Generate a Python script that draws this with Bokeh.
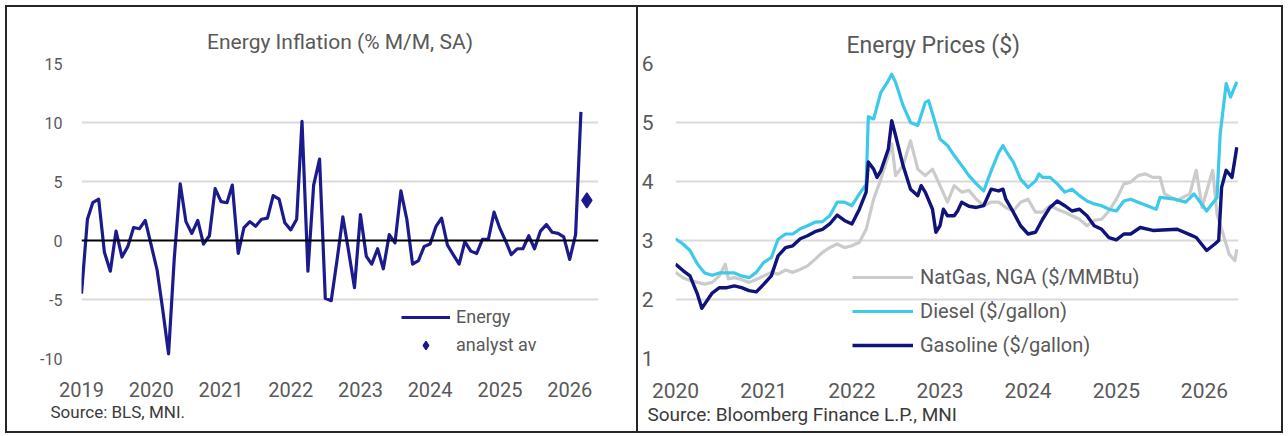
import pandas as pd
from bokeh.plotting import figure
from bokeh.models import (Range1d, FixedTicker, DatetimeTickFormatter, Span, Title,
                          Legend, LegendItem, ColumnDataSource)
from bokeh.layouts import row
from bokeh.embed import file_html
from bokeh.resources import INLINE

FONT = "Roboto"

# ---------------- Left chart data: Energy CPI % M/M SA (monthly from Jan 2019) -------------
energy_start = "2019-01-01"
energy_vals = [
    -4.5, 1.8, 3.2, 3.5, -1.0, -2.6, 0.8, -1.4, -0.5, 1.1, 1.0, 1.7,      # 2019
    -0.4, -2.5, -5.8, -9.6, -1.5, 4.8, 1.6, 0.6, 1.7, -0.3, 0.4, 4.4,     # 2020
    3.3, 3.2, 4.7, -1.1, 1.1, 1.6, 1.2, 1.8, 1.9, 3.8, 3.5, 1.5,          # 2021
    0.9, 1.8, 10.1, -2.6, 4.7, 6.9, -4.9, -5.1, -1.6, 2.0, -1.0, -4.0,    # 2022
    2.2, -1.35, -2.0, -0.7, -2.4, 0.5, -0.2, 4.2, 1.8, -2.0, -1.7, -0.5,  # 2023
    -0.3, 1.2, 1.9, -0.4, -1.2, -2.0, -0.1, -0.9, -1.1, 0.1, 0.1, 2.4,    # 2024
    1.0, -0.1, -1.2, -0.7, -0.7, 0.4, -0.7, 0.8, 1.35, 0.7, 0.6, 0.3,     # 2025
    -1.6, 0.5, 10.9,                                                      # 2026
]
analyst_dates = ["2026-04-01"]
analyst_vals = [3.4]
left_years = [2019, 2020, 2021, 2022, 2023, 2024, 2025, 2026]
left_yticks = [-10, -5, 0, 5, 10, 15]

# ---------------- Right chart data: Energy prices ($) ----------------
natgas_dates = [
    "2020-01-01", "2020-02-01", "2020-03-01", "2020-04-01", "2020-05-01", "2020-06-01",
    "2020-07-01", "2020-07-25", "2020-08-07", "2020-09-01", "2020-10-01", "2020-11-01",
    "2020-12-01", "2021-01-01", "2021-02-01", "2021-03-01", "2021-04-01", "2021-05-01",
    "2021-06-01", "2021-07-01", "2021-08-01", "2021-09-01", "2021-10-01", "2021-11-01",
    "2021-12-01", "2022-01-01", "2022-02-01", "2022-03-01", "2022-04-01", "2022-05-01",
    "2022-06-01", "2022-06-15", "2022-07-01", "2022-08-01", "2022-09-01", "2022-10-01",
    "2022-11-01", "2022-12-01", "2023-01-01", "2023-02-01", "2023-03-01", "2023-04-01",
    "2023-05-01", "2023-06-01", "2023-07-01", "2023-08-01", "2023-09-01", "2023-10-01",
    "2023-11-01", "2023-12-01", "2024-01-01", "2024-02-01", "2024-03-01", "2024-04-01",
    "2024-05-01", "2024-06-01", "2024-07-01", "2024-08-01", "2024-09-01", "2024-10-01",
    "2024-11-01", "2024-12-01", "2025-01-01", "2025-02-01", "2025-03-01", "2025-04-01",
    "2025-05-01", "2025-06-01", "2025-07-01", "2025-07-19", "2025-09-10", "2025-11-01",
    "2025-11-28", "2025-12-22", "2026-02-04", "2026-02-22", "2026-03-19", "2026-04-13",
    "2026-05-07", "2026-05-15",
]
natgas_vals = [
    2.46, 2.37, 2.32, 2.29, 2.26, 2.29,
    2.40, 2.60, 2.35, 2.37, 2.34, 2.29,
    2.34, 2.40, 2.46, 2.43, 2.50, 2.46,
    2.51, 2.57, 2.68, 2.80, 2.88, 2.94,
    2.88, 2.91, 2.97, 3.19, 3.70, 4.04,
    4.44, 4.64, 4.10, 4.27, 4.69, 4.21,
    4.10, 4.21, 3.93, 3.65, 3.93, 3.82,
    3.85, 3.70, 3.59, 3.65, 3.65, 3.56,
    3.50, 3.65, 3.70, 3.48, 3.48, 3.59,
    3.53, 3.48, 3.42, 3.36, 3.25, 3.34,
    3.36, 3.50, 3.70, 3.96, 3.99, 4.10,
    4.13, 4.07, 4.07, 3.79, 3.68, 3.79,
    4.19, 3.56, 4.19, 3.45, 3.11, 2.77,
    2.66, 2.85,
]

diesel_dates = [
    "2020-01-01", "2020-02-01", "2020-03-01", "2020-04-01", "2020-05-01", "2020-06-01",
    "2020-07-01", "2020-08-01", "2020-09-01", "2020-10-01", "2020-11-01", "2020-12-01",
    "2021-01-01", "2021-02-01", "2021-03-01", "2021-04-01", "2021-05-01", "2021-06-01",
    "2021-07-01", "2021-08-01", "2021-09-01", "2021-10-01", "2021-11-01", "2021-12-01",
    "2022-01-01", "2022-02-01", "2022-03-01", "2022-03-10", "2022-04-01", "2022-05-01",
    "2022-05-15", "2022-06-01", "2022-06-15", "2022-07-01", "2022-08-01", "2022-09-01",
    "2022-10-01", "2022-11-01", "2022-11-15", "2022-12-01", "2023-01-01", "2023-02-01",
    "2023-03-01", "2023-04-01", "2023-05-01", "2023-06-01", "2023-07-01", "2023-08-01",
    "2023-09-01", "2023-09-19", "2023-10-01", "2023-11-01", "2023-12-01", "2024-01-01",
    "2024-02-01", "2024-02-15", "2024-03-01", "2024-04-01", "2024-05-01", "2024-06-01",
    "2024-07-01", "2024-08-01", "2024-09-01", "2024-10-01", "2024-11-01", "2024-12-01",
    "2025-01-01", "2025-02-01", "2025-03-01", "2025-04-01", "2025-05-01", "2025-06-01",
    "2025-06-15", "2025-07-01", "2025-09-01", "2025-10-15", "2025-11-19", "2026-01-10",
    "2026-02-22", "2026-03-07", "2026-04-01", "2026-04-19", "2026-05-15",
]
diesel_vals = [
    3.03, 2.94, 2.83, 2.60, 2.45, 2.41,
    2.45, 2.45, 2.45, 2.40, 2.37, 2.46,
    2.63, 2.71, 3.02, 3.11, 3.11, 3.20,
    3.25, 3.31, 3.32, 3.42, 3.65, 3.65,
    3.59, 3.79, 3.95, 5.10, 5.06, 5.51,
    5.60, 5.71, 5.82, 5.68, 5.29, 5.00,
    4.95, 5.34, 5.37, 5.15, 4.72, 4.61,
    4.44, 4.27, 4.10, 3.96, 3.84, 4.18,
    4.49, 4.61, 4.52, 4.33, 4.04, 3.90,
    4.01, 4.13, 4.07, 4.07, 3.96, 3.82,
    3.87, 3.76, 3.67, 3.62, 3.59, 3.53,
    3.50, 3.67, 3.70, 3.65, 3.60, 3.55,
    3.53, 3.73, 3.70, 3.65, 3.79, 3.50,
    3.73, 4.80, 5.66, 5.43, 5.69,
]

gasoline_dates = [
    "2020-01-01", "2020-02-01", "2020-03-01", "2020-04-01", "2020-04-19", "2020-06-01",
    "2020-07-01", "2020-08-01", "2020-09-01", "2020-10-01", "2020-11-01", "2020-12-01",
    "2021-01-01", "2021-02-01", "2021-03-01", "2021-04-01", "2021-05-01", "2021-06-01",
    "2021-07-01", "2021-08-01", "2021-09-01", "2021-10-01", "2021-11-01", "2021-12-01",
    "2022-01-01", "2022-02-01", "2022-03-01", "2022-03-10", "2022-04-01", "2022-04-15",
    "2022-05-01", "2022-06-01", "2022-06-15", "2022-07-01", "2022-08-01", "2022-09-01",
    "2022-10-01", "2022-10-15", "2022-11-01", "2022-12-01", "2022-12-15", "2023-01-01",
    "2023-01-15", "2023-02-01", "2023-03-01", "2023-03-15", "2023-04-01", "2023-05-01",
    "2023-06-01", "2023-07-01", "2023-08-01", "2023-09-01", "2023-09-19", "2023-10-01",
    "2023-11-01", "2023-12-01", "2024-01-01", "2024-02-01", "2024-03-01", "2024-04-01",
    "2024-05-01", "2024-06-01", "2024-07-01", "2024-08-01", "2024-09-01", "2024-10-01",
    "2024-11-01", "2024-12-01", "2025-01-01", "2025-02-01", "2025-03-01", "2025-04-10",
    "2025-06-01", "2025-09-10", "2025-11-01", "2025-11-28", "2026-01-10", "2026-02-13",
    "2026-03-01", "2026-03-13", "2026-04-01", "2026-04-25", "2026-05-15",
]
gasoline_vals = [
    2.60, 2.49, 2.40, 2.09, 1.85, 2.11,
    2.20, 2.20, 2.23, 2.20, 2.15, 2.13,
    2.26, 2.40, 2.74, 2.88, 2.91, 3.03,
    3.08, 3.15, 3.19, 3.28, 3.43, 3.34,
    3.28, 3.53, 3.82, 4.33, 4.21, 4.07,
    4.18, 4.55, 5.03, 4.78, 4.27, 3.87,
    3.76, 3.93, 3.82, 3.53, 3.14, 3.25,
    3.53, 3.42, 3.42, 3.50, 3.65, 3.58,
    3.56, 3.59, 3.87, 3.84, 3.87, 3.70,
    3.48, 3.25, 3.11, 3.14, 3.36, 3.56,
    3.67, 3.59, 3.50, 3.53, 3.42, 3.25,
    3.19, 3.05, 3.01, 3.11, 3.11, 3.22,
    3.17, 3.19, 3.10, 3.05, 2.83, 2.94,
    3.00, 3.90, 4.19, 4.07, 4.58,
]
right_years = [2020, 2021, 2022, 2023, 2024, 2025, 2026]
right_yticks = [1, 2, 3, 4, 5, 6]

# ---------------- styling ----------------
ENERGY_C = "#1B1B8E"
GASOLINE_C = "#10137A"
DIESEL_C = "#3CC9EA"
NATGAS_C = "#CBCBCB"
GRID_C = "#D9D9D9"
TEXT_C = "#595959"
SRC_C = "#3A3A3A"
BORDER_C = "#262626"


def year_ticks(years):
    return [pd.Timestamp(f"{y}-01-01").value / 1e6 for y in years]


def year_fmt():
    f = "%Y"
    return DatetimeTickFormatter(years=f, months=f, days=f, hours=f, minutes=f,
                                 seconds=f, milliseconds=f, microseconds=f, hourmin=f,
                                 minsec=f)


def style(p, years, yticks, grid_ticks, xfs, yfs, ystand, xstand):
    p.xaxis.ticker = FixedTicker(ticks=year_ticks(years))
    p.xaxis.formatter = year_fmt()
    p.yaxis.ticker = FixedTicker(ticks=yticks)
    p.yaxis.major_label_overrides = {t: str(t) for t in yticks}
    for ax in (p.xaxis[0], p.yaxis[0]):
        ax.axis_line_color = None
        ax.major_tick_line_color = None
        ax.minor_tick_line_color = None
        ax.major_tick_in = 0
        ax.major_tick_out = 0
        ax.major_label_text_font = FONT
        ax.major_label_text_color = TEXT_C
    p.xaxis.major_label_text_font_size = xfs
    p.yaxis.major_label_text_font_size = yfs
    p.yaxis.major_label_standoff = ystand
    p.xaxis.major_label_standoff = xstand
    p.xgrid.grid_line_color = None
    p.ygrid.ticker = FixedTicker(ticks=grid_ticks)
    p.ygrid.grid_line_color = GRID_C
    p.ygrid.grid_line_width = 2
    p.outline_line_color = None
    p.background_fill_color = "white"
    p.border_fill_alpha = 0


def set_title(p, text, size, standoff, align="center", offset=0):
    p.title.text = text
    p.title.align = align
    p.title.offset = offset
    p.title.text_font = FONT
    p.title.text_font_size = size
    p.title.text_font_style = "normal"
    p.title.text_color = TEXT_C
    p.title.standoff = standoff


def add_source(p, text, size, offset):
    p.add_layout(Title(text=text, align="left", offset=offset, text_font=FONT,
                       text_font_size=size, text_font_style="normal",
                       text_color=SRC_C, standoff=0), "below")


def border_css(lines):
    """lines: list of (x, y, w, h) bands drawn as CSS background behind the canvas."""
    grad = f"linear-gradient({BORDER_C},{BORDER_C})"
    return {
        "background-color": "white",
        "background-image": ", ".join([grad] * len(lines)),
        "background-size": ", ".join(f"{w}px {h}px" for (_, _, w, h) in lines),
        "background-position": ", ".join(f"{x}px {y}px" for (x, y, _, _) in lines),
        "background-repeat": "no-repeat",
    }


# ---------------- left figure ----------------
left = figure(width=638, height=436, x_axis_type="datetime", output_backend="svg",
              toolbar_location=None, title="",
              x_range=Range1d(pd.Timestamp("2019-01-01"), pd.Timestamp("2026-06-01")),
              y_range=Range1d(-10, 15),
              min_border_left=81, min_border_right=40, min_border_top=61, min_border_bottom=73)
style(left, left_years, left_yticks, [-10, -5, 5, 10, 15], "20px", "16px", 19, 23)
set_title(left, "Energy Inflation (% M/M, SA)", "21px", 19)
add_source(left, "Source: BLS, MNI.", "17px", -31)

left.add_layout(Span(location=0, dimension="width", line_color="black", line_width=2))

energy_src = ColumnDataSource(dict(
    x=pd.date_range(energy_start, periods=len(energy_vals), freq="MS"), y=energy_vals))
r_energy = left.line("x", "y", source=energy_src, line_color=ENERGY_C, line_width=3.2,
                     line_join="round")
analyst_src = ColumnDataSource(dict(x=pd.to_datetime(analyst_dates), y=analyst_vals))
r_analyst = left.scatter("x", "y", source=analyst_src, marker="diamond", size=15,
                         fill_color=ENERGY_C, line_color=ENERGY_C, line_width=1.5)

leg_l = Legend(items=[LegendItem(label="Energy", renderers=[r_energy]),
                      LegendItem(label="analyst av", renderers=[r_analyst])],
               location=(320, 3), glyph_width=49, glyph_height=20, label_height=20,
               spacing=7, padding=0, margin=0, label_standoff=6,
               border_line_color=None, background_fill_alpha=0,
               label_text_font=FONT, label_text_font_size="18px",
               label_text_color=TEXT_C)
left.add_layout(leg_l)
left.styles = border_css([(5, 5, 633, 2), (5, 5, 2, 428), (5, 431, 633, 2), (636, 5, 2, 428)])

# ---------------- right figure ----------------
right = figure(width=650, height=436, x_axis_type="datetime", output_backend="svg",
               toolbar_location=None, title="",
               x_range=Range1d(pd.Timestamp("2020-01-01"), pd.Timestamp("2026-05-22")),
               y_range=Range1d(1, 6),
               min_border_left=37, min_border_right=50, min_border_top=63, min_border_bottom=78)
style(right, right_years, right_yticks, right_yticks, "21px", "21px", 22, 24)
set_title(right, "Energy Prices ($)", "23px", 9, align="left", offset=171)
add_source(right, "Source: Bloomberg Finance L.P., MNI", "19px", -28)

r_ng = right.line(pd.to_datetime(natgas_dates), natgas_vals, line_color=NATGAS_C,
                  line_width=3.2, line_join="round")
r_ds = right.line(pd.to_datetime(diesel_dates), diesel_vals, line_color=DIESEL_C,
                  line_width=3.2, line_join="round")
r_gs = right.line(pd.to_datetime(gasoline_dates), gasoline_vals, line_color=GASOLINE_C,
                  line_width=3.4, line_join="round")

leg_r = Legend(items=[LegendItem(label="NatGas, NGA ($/MMBtu)", renderers=[r_ng]),
                      LegendItem(label="Diesel ($/gallon)", renderers=[r_ds]),
                      LegendItem(label="Gasoline ($/gallon)", renderers=[r_gs])],
               location=(177, 1), glyph_width=61, glyph_height=24, label_height=24,
               spacing=10, padding=0, margin=0, label_standoff=7,
               border_line_color=None, background_fill_alpha=0,
               label_text_font=FONT, label_text_font_size="20px",
               label_text_color=TEXT_C)
right.add_layout(leg_r)
right.styles = border_css([(0, 5, 645, 2), (0, 431, 645, 2), (643, 5, 2, 428)])

layout = row(left, right)
open("out.html", "w").write(file_html(layout, INLINE))
